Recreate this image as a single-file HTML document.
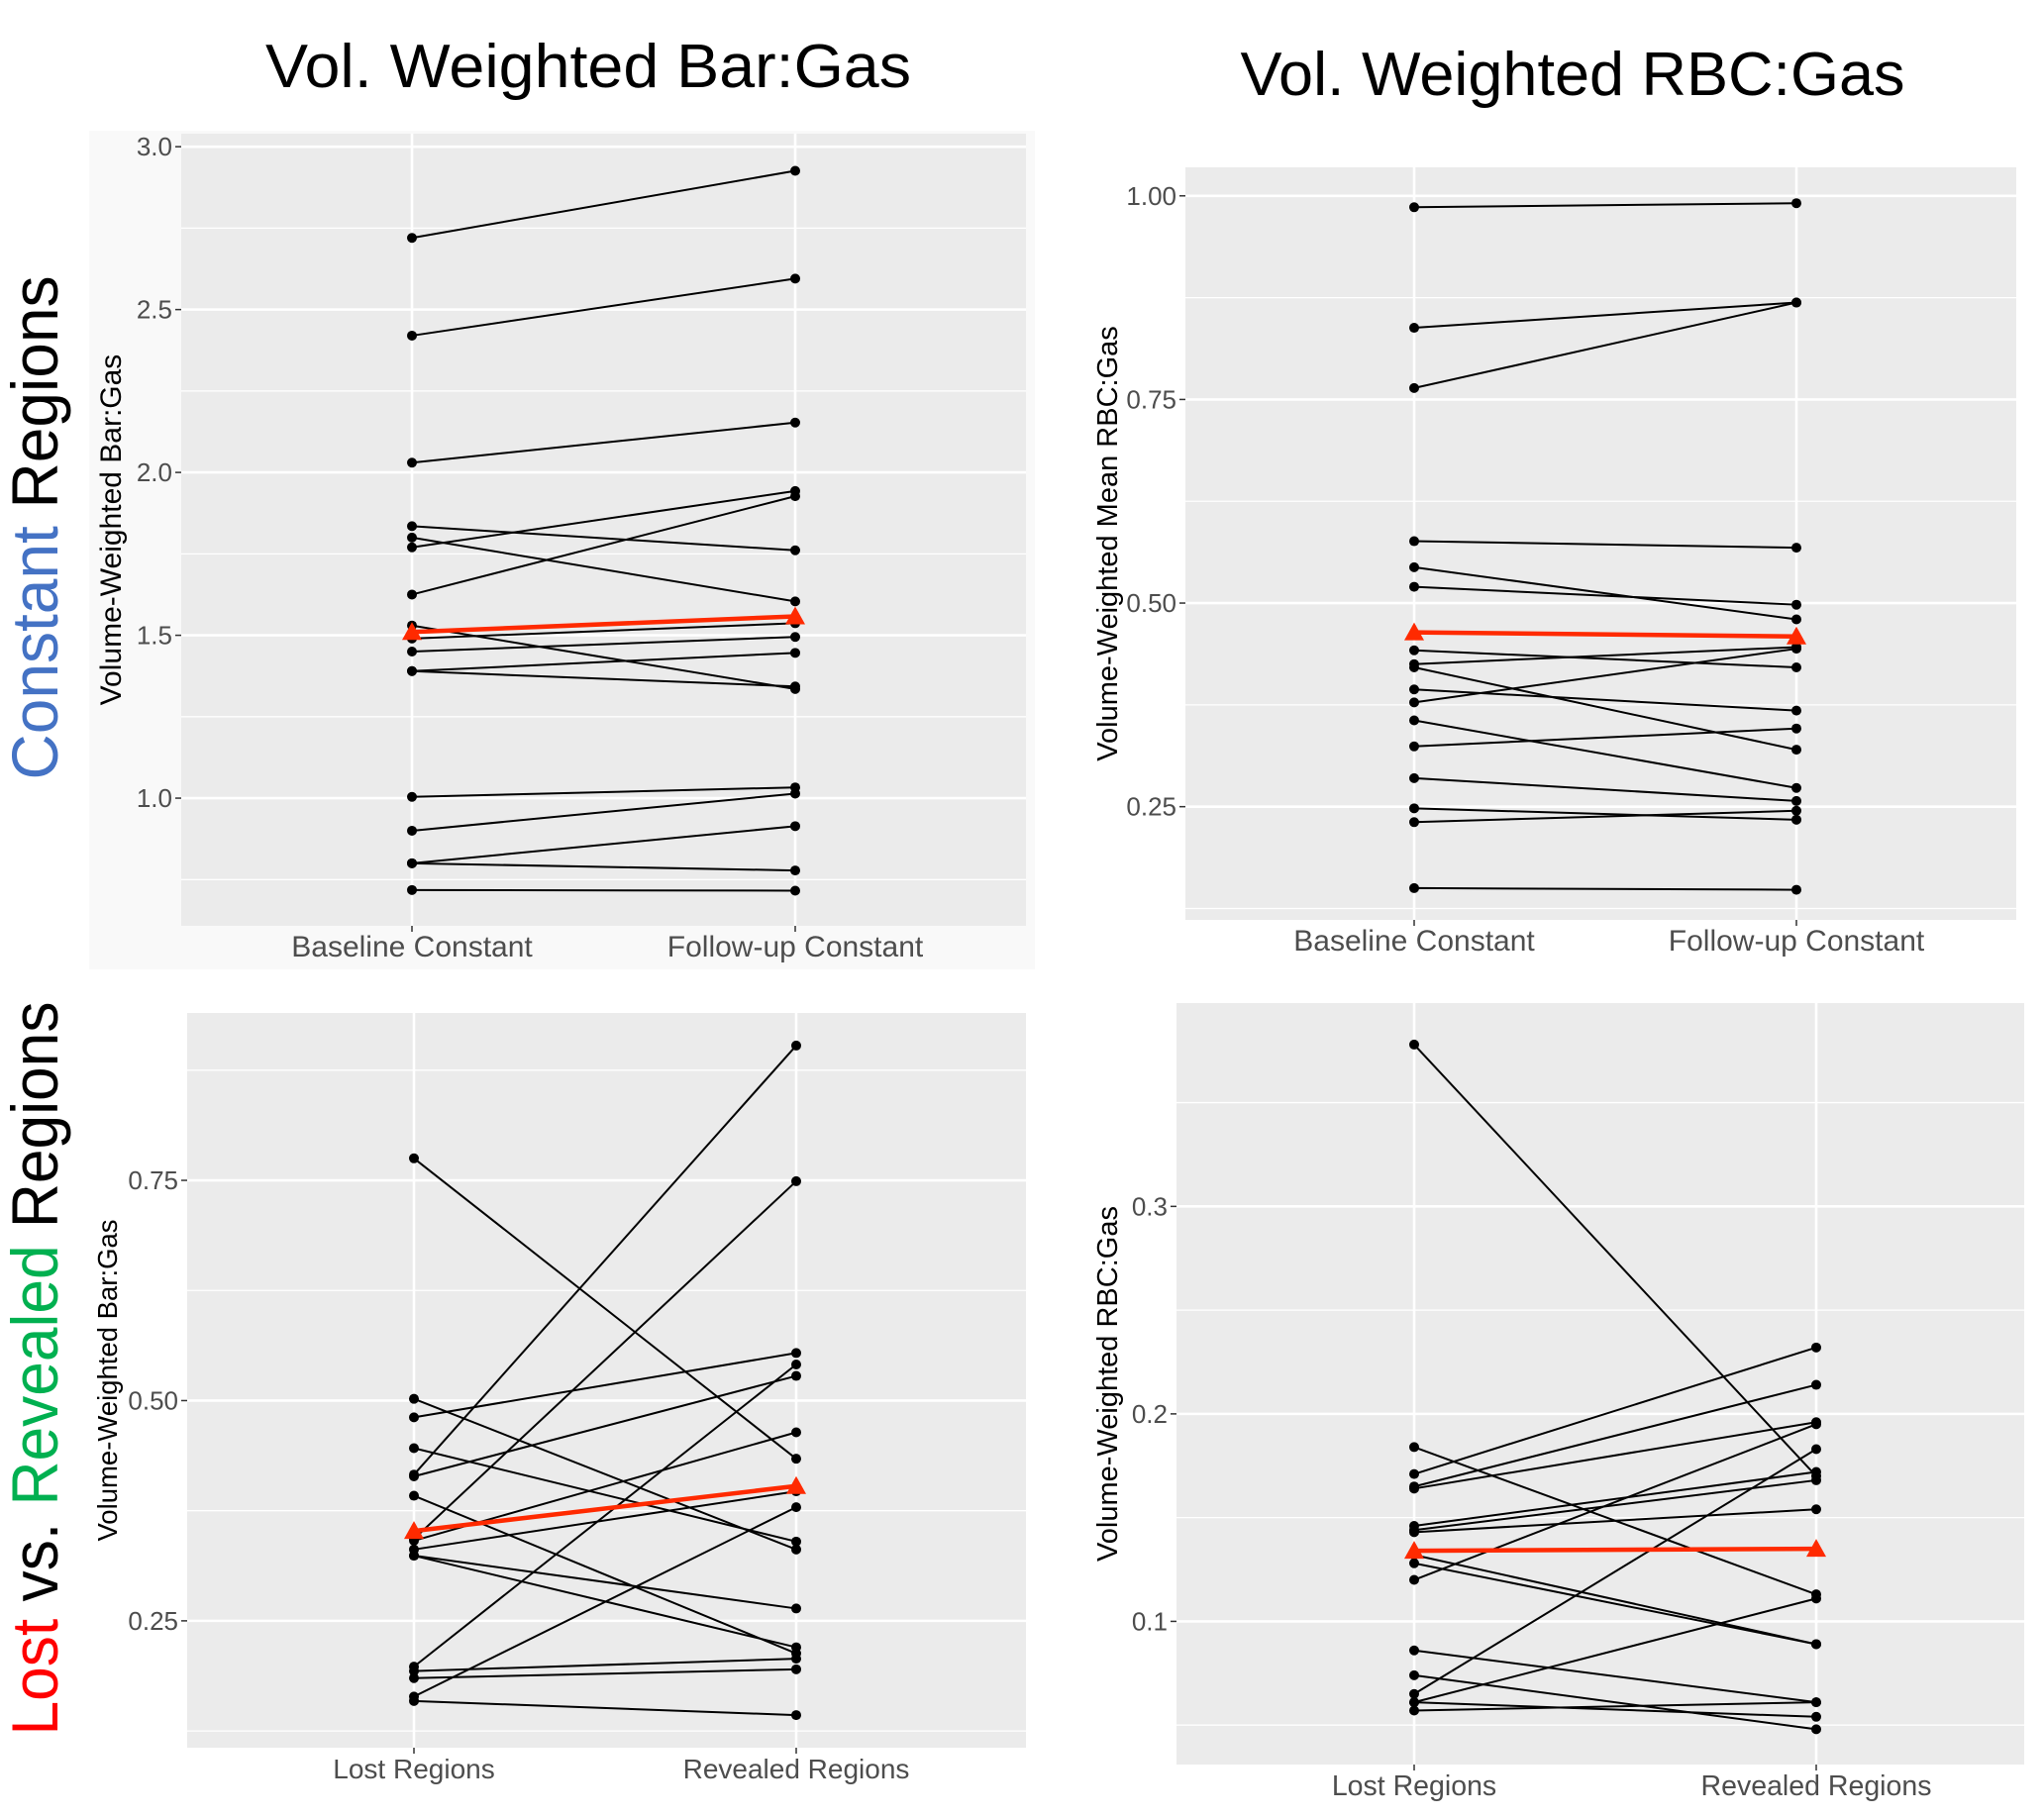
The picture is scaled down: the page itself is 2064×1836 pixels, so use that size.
<!DOCTYPE html>
<html><head><meta charset="utf-8">
<style>
html,body{margin:0;padding:0;background:#fff;}
svg{display:block;font-family:"Liberation Sans",Arial,sans-serif;}
</style></head>
<body>
<svg id="fig" width="2064" height="1836" viewBox="0 0 2064 1836">
<rect x="90" y="132" width="955" height="847" fill="#f9f9f9"/>
<text x="594" y="88" font-size="62" text-anchor="middle" textLength="652" lengthAdjust="spacingAndGlyphs" fill="#000">Vol. Weighted Bar:Gas</text>
<text x="1588" y="96" font-size="62" text-anchor="middle" textLength="671" lengthAdjust="spacingAndGlyphs" fill="#000">Vol. Weighted RBC:Gas</text>
<text transform="translate(58,533) rotate(-90)" font-size="66" text-anchor="middle" textLength="509" lengthAdjust="spacingAndGlyphs"><tspan fill="#4472c4">Constant</tspan><tspan fill="#000"> Regions</tspan></text>
<text transform="translate(58,1382) rotate(-90)" font-size="66" text-anchor="middle" textLength="741" lengthAdjust="spacingAndGlyphs"><tspan fill="#ff0000">Lost</tspan><tspan fill="#000"> vs. </tspan><tspan fill="#00b050">Revealed</tspan><tspan fill="#000"> Regions</tspan></text>
<g id="plots"></g>
</svg>
<script>
// Panel 1: Bar:Gas constant
const p1Cats = ["Baseline Constant", "Follow-up Constant"];
const p1Before = [2.72, 2.42, 2.03, 1.77, 1.625, 1.835, 1.80, 1.53, 1.49, 1.45, 1.39, 1.39, 1.004, 0.90, 0.80, 0.80, 0.718];
const p1After  = [2.926, 2.595, 2.153, 1.943, 1.927, 1.761, 1.604, 1.335, 1.537, 1.495, 1.446, 1.343, 1.033, 1.014, 0.914, 0.778, 0.716];
const p1Mean = [1.51, 1.558];
const p1Ticks = [1.0, 1.5, 2.0, 2.5, 3.0];
const p1TickLabels = ["1.0", "1.5", "2.0", "2.5", "3.0"];
const p1Minor = [0.75, 1.25, 1.75, 2.25, 2.75];
// Panel 2: RBC:Gas constant
const p2Cats = ["Baseline Constant", "Follow-up Constant"];
const p2Before = [0.986, 0.838, 0.764, 0.576, 0.544, 0.520, 0.442, 0.425, 0.421, 0.394, 0.378, 0.356, 0.324, 0.285, 0.248, 0.231, 0.150];
const p2After  = [0.991, 0.869, 0.869, 0.568, 0.480, 0.498, 0.421, 0.446, 0.320, 0.368, 0.444, 0.273, 0.346, 0.257, 0.234, 0.245, 0.148];
const p2Mean = [0.464, 0.459];
const p2Ticks = [0.25, 0.5, 0.75, 1.0];
const p2TickLabels = ["0.25", "0.50", "0.75", "1.00"];
const p2Minor = [0.125, 0.375, 0.625, 0.875];
// Panel 3: Bar:Gas lost vs revealed
const p3Cats = ["Lost Regions", "Revealed Regions"];
const p3Before = [0.775, 0.502, 0.481, 0.446, 0.416, 0.414, 0.392, 0.343, 0.341, 0.331, 0.324, 0.324, 0.198, 0.193, 0.185, 0.164, 0.159];
const p3After  = [0.434, 0.331, 0.554, 0.340, 0.903, 0.528, 0.213, 0.749, 0.464, 0.397, 0.264, 0.220, 0.541, 0.207, 0.195, 0.379, 0.143];
const p3Mean = [0.352, 0.403];
const p3Ticks = [0.25, 0.5, 0.75];
const p3TickLabels = ["0.25", "0.50", "0.75"];
const p3Minor = [0.125, 0.375, 0.625, 0.875];
// Panel 4: RBC:Gas lost vs revealed
const p4Cats = ["Lost Regions", "Revealed Regions"];
const p4Before = [0.378, 0.184, 0.171, 0.165, 0.164, 0.146, 0.144, 0.143, 0.132, 0.128, 0.120, 0.086, 0.074, 0.065, 0.061, 0.061, 0.057];
const p4After  = [0.170, 0.113, 0.232, 0.214, 0.196, 0.172, 0.168, 0.154, 0.089, 0.089, 0.195, 0.061, 0.048, 0.183, 0.111, 0.054, 0.061];
const p4Mean = [0.134, 0.135];
const p4Ticks = [0.1, 0.2, 0.3];
const p4TickLabels = ["0.1", "0.2", "0.3"];
const p4Minor = [0.05, 0.15, 0.25, 0.35];

const NS = "http://www.w3.org/2000/svg";
const root = document.getElementById("plots");
function mk(tag, attrs, parent) {
  const e = document.createElementNS(NS, tag);
  for (const k in attrs) e.setAttribute(k, attrs[k]);
  (parent || root).appendChild(e);
  return e;
}

function drawPanel(id, box, yDom, cats, before, after, mean, ticks, tickLabels, minor, yTitle, yTitleX, yTitleSize, xLabSize) {
  const g = mk("g", {});
  
  
  const y = v => box.y1 - (v - yDom[0]) / (yDom[1] - yDom[0]) * (box.y1 - box.y0);
  const x = i => box.cx0 + i * (box.cx1 - box.cx0);
  const bg = mk("rect", {x: box.x0, y: box.y0, width: box.x1 - box.x0, height: box.y1 - box.y0, fill: "#ebebeb"}, g);
  
  
  minor.forEach(v => {
    if (v < yDom[0] || v > yDom[1]) return;
    const l = mk("line", {x1: box.x0, x2: box.x1, y1: y(v), y2: y(v), stroke: "#fff", "stroke-width": 1.3}, g);
    
    
  });
  ticks.forEach((v, i) => {
    const l = mk("line", {x1: box.x0, x2: box.x1, y1: y(v), y2: y(v), stroke: "#fff", "stroke-width": 2.6}, g);
    
    
    const t = mk("line", {x1: box.x0 - 6, x2: box.x0, y1: y(v), y2: y(v), stroke: "#333", "stroke-width": 1.5}, g);
    
    
    const tx = mk("text", {x: box.x0 - 9, y: y(v) + 9, "font-size": 26, fill: "#4d4d4d", "text-anchor": "end"}, g);
    tx.textContent = tickLabels[i];
    
    
  });
  cats.forEach((c, i) => {
    const l = mk("line", {x1: x(i), x2: x(i), y1: box.y0, y2: box.y1, stroke: "#fff", "stroke-width": 2.6}, g);
    
    
    const t = mk("line", {x1: x(i), x2: x(i), y1: box.y1, y2: box.y1 + 6, stroke: "#333", "stroke-width": 1.5}, g);
    
    
    const tx = mk("text", {x: x(i), y: box.y1 + 31, "font-size": xLabSize, fill: "#4d4d4d", "text-anchor": "middle"}, g);
    tx.textContent = c;
    
    
  });
  const yt = mk("text", {transform: "translate(" + yTitleX + "," + ((box.y0 + box.y1) / 2) + ") rotate(-90)", "font-size": yTitleSize, fill: "#000", "text-anchor": "middle"}, g);
  yt.textContent = yTitle;
  
  
  before.forEach((b, i) => {
    const a = after[i];
    const l = mk("line", {x1: x(0), y1: y(b), x2: x(1), y2: y(a), stroke: "#000", "stroke-width": 2}, g);
    
    
    [[0, b], [1, a]].forEach(p => {
      const c = mk("circle", {cx: x(p[0]), cy: y(p[1]), r: 5, fill: "#000"}, g);
      
      
    });
  });
  const ml = mk("line", {x1: x(0), y1: y(mean[0]), x2: x(1), y2: y(mean[1]), stroke: "#ff2a00", "stroke-width": 4.5}, g);
  
  
  mean.forEach((m, i) => {
    const cx = x(i), cy = y(m);
    const tr = mk("polygon", {points: (cx - 10) + "," + (cy + 8) + " " + (cx + 10) + "," + (cy + 8) + " " + cx + "," + (cy - 10), fill: "#ff2a00"}, g);
    
    
  });
}

drawPanel("panel-bar-gas-constant", {x0: 183, x1: 1036, y0: 135, y1: 935, cx0: 416, cx1: 803}, [0.608, 3.04], p1Cats, p1Before, p1After, p1Mean, p1Ticks, p1TickLabels, p1Minor, "Volume-Weighted Bar:Gas", 122, 30, 30);
drawPanel("panel-rbc-gas-constant", {x0: 1197, x1: 2036, y0: 169, y1: 929, cx0: 1428, cx1: 1814}, [0.111, 1.035], p2Cats, p2Before, p2After, p2Mean, p2Ticks, p2TickLabels, p2Minor, "Volume-Weighted Mean RBC:Gas", 1128, 29, 30);
drawPanel("panel-bar-gas-lost-revealed", {x0: 189, x1: 1036, y0: 1023, y1: 1765, cx0: 418, cx1: 804}, [0.106, 0.94], p3Cats, p3Before, p3After, p3Mean, p3Ticks, p3TickLabels, p3Minor, "Volume-Weighted Bar:Gas", 118, 27.5, 28);
drawPanel("panel-rbc-gas-lost-revealed", {x0: 1188, x1: 2044, y0: 1013, y1: 1782, cx0: 1428, cx1: 1834}, [0.031, 0.398], p4Cats, p4Before, p4After, p4Mean, p4Ticks, p4TickLabels, p4Minor, "Volume-Weighted RBC:Gas", 1128, 29, 28.5);
</script>
</body></html>
